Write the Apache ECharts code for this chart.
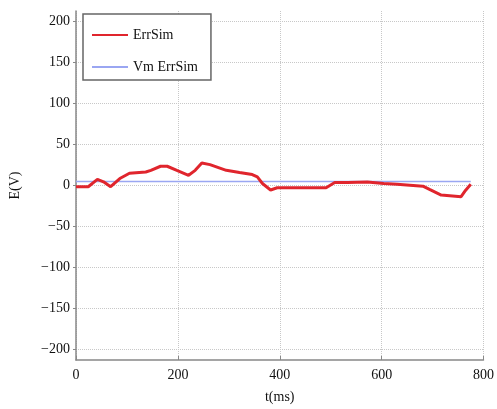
<!DOCTYPE html>
<html>
<head>
<meta charset="utf-8">
<script src="https://cdn.jsdelivr.net/npm/echarts@6/dist/echarts.min.js"></script>
<style>
  html, body { margin: 0; padding: 0; background: #fff; }
  #chart { width: 497px; height: 409px; }
</style>
</head>
<body>
<div id="chart"></div>
<script>
// ErrSim curve (t in ms, E in V)
var errT = [0, 24, 42, 54, 68, 86, 105, 137, 147, 166, 179, 198, 221, 234, 247, 263, 295, 321, 346, 356, 366, 382, 395, 440, 491, 508, 533, 572, 604, 630, 681, 694, 717, 756, 765, 775];
var errE = [-1.5, -1.5, 7.5, 4.5, -1.5, 8.5, 15, 16.5, 18.5, 23.5, 23.5, 18.5, 12.5, 18.5, 27.5, 25.5, 18.5, 15.8, 13.3, 10.5, 2.4, -5.5, -2.8, -2.8, -2.8, 3.6, 3.6, 4.4, 2.4, 1.6, -0.8, -4.8, -11.7, -13.7, -5.7, 1.6];

// Vm ErrSim: flat line
var vmT = [0, 775];
var vmE = [5, 5];

var yTicks = [-200, -150, -100, -50, 0, 50, 100, 150, 200];

function pairs(xs, ys) {
  var out = [];
  for (var i = 0; i < xs.length; i++) out.push([xs[i], ys[i]]);
  return out;
}

var font = 'Liberation Serif, Times New Roman, serif';
var myChart = echarts.init(document.getElementById('chart'));
myChart.setOption({
  animation: false,
  grid: { left: 74, right: 9, top: 11, bottom: 46 },
  legend: {
    orient: 'vertical',
    left: 83,
    top: 14,
    padding: [14, 13, 6, 8],
    itemWidth: 36,
    itemHeight: 14,
    itemGap: 18,
    borderColor: '#666',
    borderWidth: 1.5,
    backgroundColor: '#fff',
    itemStyle: { opacity: 0 },
    textStyle: { fontFamily: font, fontSize: 14, color: '#111' },
    data: ['ErrSim', 'Vm ErrSim']
  },
  xAxis: {
    type: 'value',
    min: 0,
    max: 800,
    interval: 200,
    name: 't(ms)',
    nameLocation: 'middle',
    nameGap: 30,
    nameTextStyle: { fontFamily: font, fontSize: 14, color: '#111' },
    axisLine: { onZero: false, lineStyle: { color: '#888', width: 1.5 } },
    axisTick: { inside: true, length: 4, lineStyle: { color: '#888' } },
    axisLabel: { fontFamily: font, fontSize: 14, color: '#111', margin: 8 },
    splitLine: { show: true, lineStyle: { type: 'dotted', color: '#c8c8c8' } }
  },
  yAxis: {
    type: 'value',
    min: -213,
    max: 213,
    name: 'E(V)',
    nameLocation: 'middle',
    nameGap: 54,
    nameTextStyle: { fontFamily: font, fontSize: 14, color: '#111' },
    axisLine: { show: true, onZero: false, lineStyle: { color: '#888', width: 1.5 } },
    axisTick: { show: true, length: 3, customValues: yTicks, lineStyle: { color: '#888' } },
    axisLabel: { fontFamily: font, fontSize: 14, color: '#111', margin: 6, customValues: yTicks,
      formatter: function (v) { return v < 0 ? '\u2212' + Math.abs(v) : String(v); } },
    splitLine: { show: true, lineStyle: { type: 'dotted', color: '#c8c8c8' } }
  },
  series: [
    {
      name: 'ErrSim',
      type: 'line',
      data: pairs(errT, errE),
      symbol: 'none',
      lineStyle: { color: '#e0252d', width: 3 },
      itemStyle: { color: '#e0252d' },
      z: 3
    },
    {
      name: 'Vm ErrSim',
      type: 'line',
      data: pairs(vmT, vmE),
      symbol: 'none',
      lineStyle: { color: '#9aa6f2', width: 1.5 },
      itemStyle: { color: '#9aa6f2' },
      z: 2
    }
  ]
});
</script>
</body>
</html>
